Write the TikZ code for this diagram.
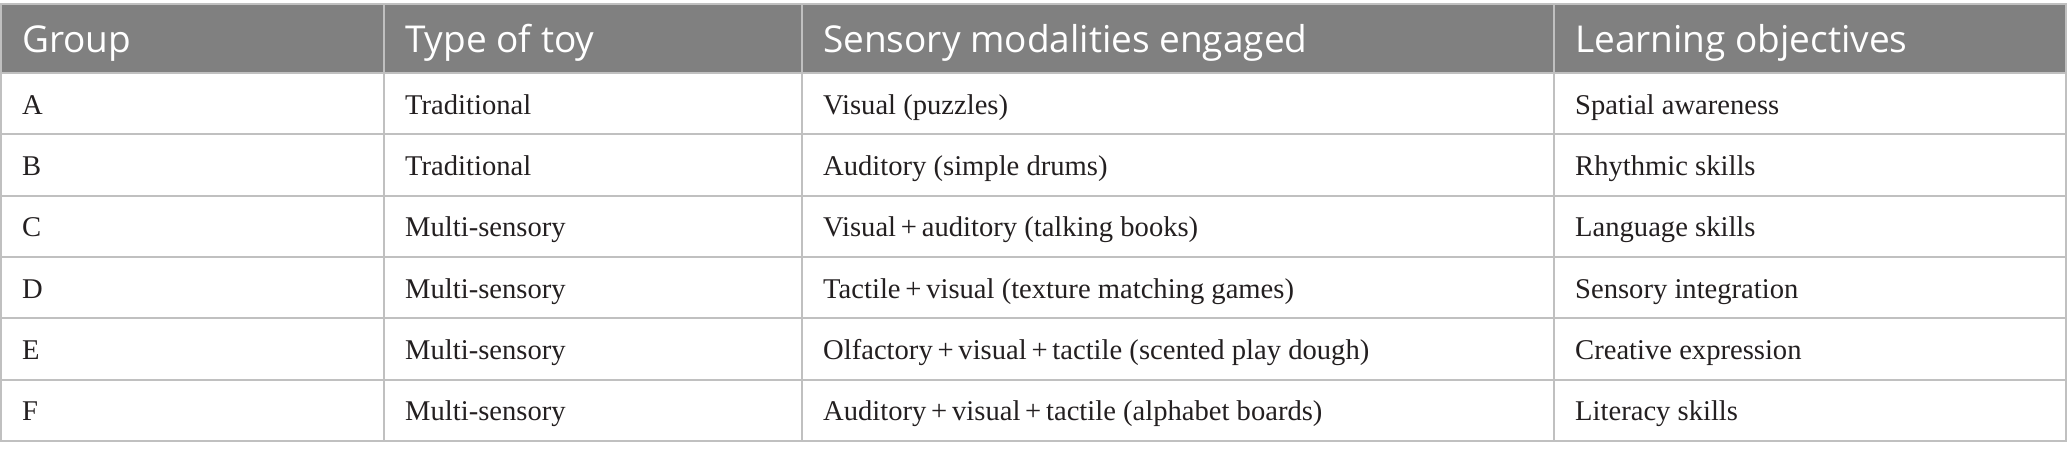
\documentclass[tikz,border=0pt]{standalone}
\usepackage{fontspec}
\setmainfont{Liberation Serif}
\newfontfamily\hdrfont{Open Sans}
\definecolor{hdrgray}{HTML}{808080}
\definecolor{gridgray}{HTML}{C0C0C0}
\definecolor{bodyink}{HTML}{231F20}
\begin{document}
\begin{tikzpicture}[x=1pt,y=-1pt,
  hdr/.style={anchor=base west,inner sep=0pt,text=white,font=\hdrfont\fontsize{37}{44}\selectfont},
  cell/.style={anchor=base west,inner sep=0pt,text=bodyink,font=\fontsize{28.6}{34}\selectfont},
  gridline/.style={draw=gridgray,line width=2pt}]
\useasboundingbox (0,0) rectangle (2067,460);
\fill[hdrgray] (0,4) rectangle (2067,73);
% horizontal rules
\foreach \yy in {4,73,134.33,195.67,257,318.33,379.67,441}
  \draw[gridline] (0,\yy) -- (2067,\yy);
% vertical rules
\foreach \xx in {1,384,802,1554,2066}
  \draw[gridline] (\xx,4) -- (\xx,441);
% header
\node[hdr] (h1) at (22,52.5) {Group};
\node[hdr] (h2) at (405,52.5) {Type of toy};
\node[hdr] (h3) at (823,52.5) {Sensory modalities engaged};
\node[hdr] (h4) at (1575,52.5) {Learning objectives};
% rows
\def\ca{22}\def\cb{405}\def\cc{823}\def\cd{1575}
\node[cell] (a1) at (\ca,114) {A};
\node[cell] (a2) at (\cb,114) {Traditional};
\node[cell] (a3) at (\cc,114) {Visual (puzzles)};
\node[cell] (a4) at (\cd,114) {Spatial awareness};
\node[cell] (b1) at (\ca,175.3) {B};
\node[cell] (b2) at (\cb,175.3) {Traditional};
\node[cell] (b3) at (\cc,175.3) {Auditory (simple drums)};
\node[cell] (b4) at (\cd,175.3) {Rhythmic skills};
\node[cell] (c1) at (\ca,236.6) {C};
\node[cell] (c2) at (\cb,236.6) {Multi-sensory};
\node[cell] (c3) at (\cc,236.6) {Visual\,+\,auditory (talking books)};
\node[cell] (c4) at (\cd,236.6) {Language skills};
\node[cell] (d1) at (\ca,298) {D};
\node[cell] (d2) at (\cb,298) {Multi-sensory};
\node[cell] (d3) at (\cc,298) {Tactile\,+\,visual (texture matching games)};
\node[cell] (d4) at (\cd,298) {Sensory integration};
\node[cell] (e1) at (\ca,359.3) {E};
\node[cell] (e2) at (\cb,359.3) {Multi-sensory};
\node[cell] (e3) at (\cc,359.3) {Olfactory\,+\,visual\,+\,tactile (scented play dough)};
\node[cell] (e4) at (\cd,359.3) {Creative expression};
\node[cell] (f1) at (\ca,420.6) {F};
\node[cell] (f2) at (\cb,420.6) {Multi-sensory};
\node[cell] (f3) at (\cc,420.6) {Auditory\,+\,visual\,+\,tactile (alphabet boards)};
\node[cell] (f4) at (\cd,420.6) {Literacy skills};
\end{tikzpicture}
\end{document}
